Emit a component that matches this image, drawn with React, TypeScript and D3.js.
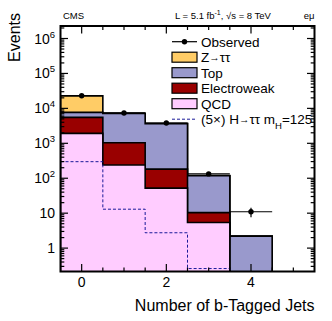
import { useRef, useEffect } from 'react'
import * as d3 from 'd3'

const WIDTH = 332
const HEIGHT = 321
const MARGIN = { top: 26, right: 17.5, bottom: 49.5, left: 60.5 }
const FONT = '"Liberation Sans", Arial, Helvetica, sans-serif'

// bins: number of b-tagged jets 0..5
const BIN_EDGES = [-0.5, 0.5, 1.5, 2.5, 3.5, 4.5, 5.5]
const QCD = [1930, 240, 52, 5.4, 0, 0]
const ELECTROWEAK = [3610, 800, 130, 5, 0, 0]
const TOP = [2160, 6100, 3470, 108, 2.2, 0]
const ZTAUTAU = [15200, 60, 20, 1, 0, 0]
const HIGGS_5X = [298, 13, 2.75, 0.26, 0, 0]
const OBSERVED = [22900, 7400, 3800, 133, 11]

const X_LABELED_TICKS = [0, 2, 4]
const Y_DECADES = [0, 1, 2, 3, 4, 5, 6]

const LEGEND = [
  { key: 'obs', label: 'Observed' },
  { key: 'ztt', label: 'Z', fill: '#ffcc66' },
  { key: 'top', label: 'Top', fill: '#9999cc' },
  { key: 'ewk', label: 'Electroweak', fill: '#990000' },
  { key: 'qcd', label: 'QCD', fill: '#ffccff' },
  { key: 'higgs', label: '(5×) H' },
]

export default function App() {
  const svgRef = useRef<SVGSVGElement>(null)

  useEffect(() => {
    if (!svgRef.current) return
    const svg = d3.select(svgRef.current)
    svg.selectAll('*').remove()

    const x0 = MARGIN.left
    const x1 = WIDTH - MARGIN.right
    const y0 = MARGIN.top
    const y1 = HEIGHT - MARGIN.bottom

    const x = d3.scaleLinear().domain([-0.5, 5.5]).range([x0, x1])
    const y = d3.scaleLog().domain([0.214, 2.28e6]).range([y1, y0])
    const yv = (v: number) => (v > 0 ? y(v) : y1 + 10)

    svg.append('defs').append('clipPath').attr('id', 'plotclip')
      .append('rect').attr('x', x0).attr('y', y0).attr('width', x1 - x0).attr('height', y1 - y0)

    const plot = svg.append('g').attr('clip-path', 'url(#plotclip)')

    // step outline of a histogram
    const stepPts = (vals: number[]) => {
      const pts: [number, number][] = [[x(BIN_EDGES[0]), y1 + 10]]
      vals.forEach((v, i) => {
        pts.push([x(BIN_EDGES[i]), yv(v)])
        pts.push([x(BIN_EDGES[i + 1]), yv(v)])
      })
      pts.push([x(BIN_EDGES[BIN_EDGES.length - 1]), y1 + 10])
      return pts
    }
    const line = d3.line<[number, number]>()

    // ─── stacked backgrounds ───
    const cumEwk = QCD.map((v, i) => v + ELECTROWEAK[i])
    const cumTop = cumEwk.map((v, i) => v + TOP[i])
    const cumZtt = cumTop.map((v, i) => v + ZTAUTAU[i])
    const layers = [
      { vals: cumZtt, fill: '#ffcc66' },
      { vals: cumTop, fill: '#9999cc' },
      { vals: cumEwk, fill: '#990000' },
      { vals: QCD, fill: '#ffccff' },
    ]
    layers.forEach(l => {
      plot.append('path').attr('d', line(stepPts(l.vals)))
        .attr('fill', l.fill).attr('stroke', '#000').attr('stroke-width', 1.6)
        .attr('stroke-linejoin', 'miter')
    })

    // Higgs signal x5
    plot.append('path').attr('d', line(stepPts(HIGGS_5X).slice(1, -1)))
      .attr('fill', 'none').attr('stroke', '#1a1a99').attr('stroke-width', 1)
      .attr('stroke-dasharray', '3,2')

    // ─── observed data ───
    OBSERVED.forEach((n, i) => {
      const cx = x(i)
      const cy = y(n)
      const err = Math.sqrt(n)
      plot.append('line')
        .attr('x1', x(BIN_EDGES[i])).attr('x2', x(BIN_EDGES[i + 1]))
        .attr('y1', cy).attr('y2', cy)
        .attr('stroke', '#000').attr('stroke-width', 1.2)
      plot.append('line')
        .attr('x1', cx).attr('x2', cx)
        .attr('y1', y(n + err)).attr('y2', y(Math.max(n - err, 0.22)))
        .attr('stroke', '#000').attr('stroke-width', 1.2)
      plot.append('circle').attr('cx', cx).attr('cy', cy).attr('r', 2.7).attr('fill', '#000')
    })

    // ─── axes ticks (mirrored on all sides) ───
    const ticks = svg.append('g').attr('stroke', '#000').attr('stroke-width', 1.2)
    d3.range(-0.5, 5.51, 0.5).forEach(t => {
      if (t <= -0.5 || t >= 5.5) return
      const len = X_LABELED_TICKS.includes(t) ? 7.5 : 4
      ticks.append('line').attr('x1', x(t)).attr('x2', x(t)).attr('y1', y1).attr('y2', y1 - len)
      ticks.append('line').attr('x1', x(t)).attr('x2', x(t)).attr('y1', y0).attr('y2', y0 + len)
    })
    const yTickVals: { v: number; major: boolean }[] = []
    for (let e = -1; e <= 6; e++) {
      for (let m = 1; m <= 9; m++) {
        const v = m * Math.pow(10, e)
        if (v < 0.214 || v > 2.28e6) continue
        yTickVals.push({ v, major: m === 1 })
      }
    }
    yTickVals.forEach(t => {
      const len = t.major ? 7.5 : 3.8
      const yy = y(t.v)
      ticks.append('line').attr('x1', x0).attr('x2', x0 + len).attr('y1', yy).attr('y2', yy)
      ticks.append('line').attr('x1', x1).attr('x2', x1 - len).attr('y1', yy).attr('y2', yy)
    })

    svg.append('rect').attr('x', x0).attr('y', y0).attr('width', x1 - x0).attr('height', y1 - y0)
      .attr('fill', 'none').attr('stroke', '#000').attr('stroke-width', 2)

    // ─── tick labels ───
    const txt = svg.append('g').attr('font-family', FONT).attr('fill', '#000')
    X_LABELED_TICKS.forEach(t => {
      txt.append('text').attr('x', x(t)).attr('y', y1 + 15.5)
        .attr('text-anchor', 'middle').attr('font-size', 14).text(String(t))
    })
    Y_DECADES.forEach(e => {
      const t = txt.append('text').attr('x', 55).attr('y', y(Math.pow(10, e)) + 5)
        .attr('text-anchor', 'end').attr('font-size', 14)
      if (e === 0) t.text('1')
      else if (e === 1) t.text('10')
      else {
        t.append('tspan').text('10')
        t.append('tspan').attr('dy', -6).attr('font-size', 9.5).text(String(e))
      }
    })

    // axis titles
    txt.append('text').attr('x', x1).attr('y', 311).attr('text-anchor', 'end')
      .attr('font-size', 16).text('Number of b-Tagged Jets')
    txt.append('text').attr('transform', 'translate(20,13) rotate(-90)')
      .attr('text-anchor', 'end').attr('font-size', 16).text('Events')

    // header
    txt.append('text').attr('x', 63).attr('y', 19).attr('font-size', 9.5).text('CMS')
    const lum = txt.append('text').attr('x', 175).attr('y', 19).attr('font-size', 9.5)
    lum.append('tspan').text('L = 5.1 fb')
    lum.append('tspan').attr('dy', -4).attr('font-size', 7).text('-1')
    lum.append('tspan').attr('dy', 4).text(', √s = 8 TeV')
    txt.append('text').attr('x', x1).attr('y', 19).attr('text-anchor', 'end')
      .attr('font-size', 9.5).text('eμ')

    // ─── legend ───
    const lg = svg.append('g')
    const lx0 = 172
    const lx1 = 197
    const arrowTau = (t: d3.Selection<SVGTextElement, unknown, null, undefined>) => {
      t.append('tspan').attr('font-size', 10.5).attr('dy', -1).text('→')
      t.append('tspan').attr('dy', 1).text('ττ')
    }
    LEGEND.forEach((item, i) => {
      const cy = 41.7 + i * 15.5
      if (item.key === 'obs') {
        lg.append('line').attr('x1', lx0).attr('x2', lx1).attr('y1', cy).attr('y2', cy)
          .attr('stroke', '#000').attr('stroke-width', 1.2)
        lg.append('circle').attr('cx', (lx0 + lx1) / 2).attr('cy', cy).attr('r', 2.7).attr('fill', '#000')
      } else if (item.key === 'higgs') {
        lg.append('line').attr('x1', lx0).attr('x2', lx1).attr('y1', cy).attr('y2', cy)
          .attr('stroke', '#1a1a99').attr('stroke-width', 1).attr('stroke-dasharray', '3,2')
      } else {
        lg.append('rect').attr('x', lx0).attr('y', cy - 5).attr('width', lx1 - lx0).attr('height', 10)
          .attr('fill', item.fill!).attr('stroke', '#000').attr('stroke-width', 1.2)
      }
      const t = lg.append('text').attr('x', 201).attr('y', cy + 5)
        .attr('font-family', FONT).attr('font-size', 13.5)
      t.append('tspan').text(item.label)
      if (item.key === 'ztt') arrowTau(t)
      if (item.key === 'higgs') {
        arrowTau(t)
        t.append('tspan').text(' m')
        t.append('tspan').attr('dy', 5).attr('font-size', 9.5).text('H')
        t.append('tspan').attr('dy', -5).text('=125')
      }
    })
  }, [])

  return (
    <svg
      ref={svgRef}
      width={WIDTH}
      height={HEIGHT}
      style={{ position: 'absolute', left: 0, top: 0, background: '#fff' }}
    />
  )
}
